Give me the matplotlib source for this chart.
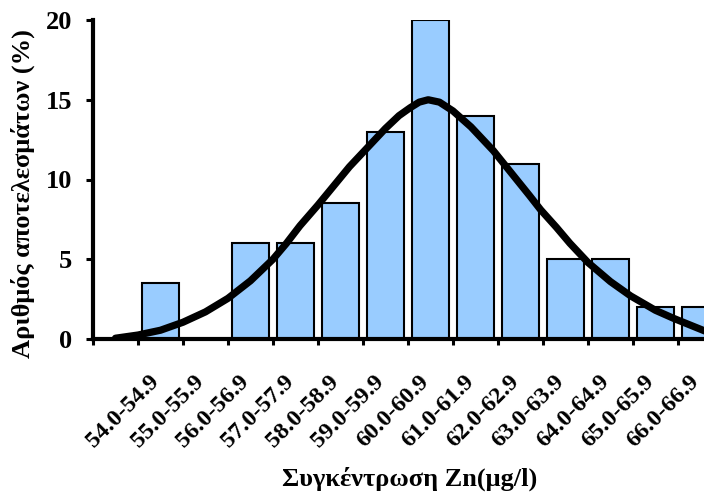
import matplotlib
matplotlib.use("Agg")
import matplotlib.pyplot as plt
from matplotlib.ticker import FixedLocator

plt.rcParams["font.family"] = ["Liberation Serif", "DejaVu Serif"]
plt.rcParams["font.weight"] = "bold"

# --- data ---
categories = ["54.0-54.9", "55.0-55.9", "56.0-56.9", "57.0-57.9", "58.0-58.9",
              "59.0-59.9", "60.0-60.9", "61.0-61.9", "62.0-62.9", "63.0-63.9",
              "64.0-64.9", "65.0-65.9", "66.0-66.9"]
percent = [3.5, 0, 6, 6, 8.5, 13, 20, 14, 11, 5, 5, 2, 2]

# fitted normal curve, points read in category units (slot 0 is the empty slot left of 54.0)
curve_x = [0.0, 0.5, 1.0, 1.5, 2.0, 2.5, 3.0, 3.5, 3.8, 4.1, 4.5, 4.85, 5.2, 5.6, 6.0,
           6.3, 6.55, 6.75, 6.95, 7.2, 7.5, 7.9, 8.4, 8.8, 9.2, 9.45, 9.8, 10.1, 10.5,
           11.0, 11.45, 12.0, 12.4, 13.1]
curve_y = [0.05, 0.25, 0.55, 1.05, 1.7, 2.55, 3.65, 5.0, 6.0, 7.1, 8.4, 9.6, 10.8, 12.0, 13.2,
           14.0, 14.5, 14.85, 15.0, 14.85, 14.3, 13.3, 11.8, 10.4, 9.0, 8.1, 7.0, 6.0, 4.8,
           3.6, 2.7, 1.8, 1.3, 0.5]

xpos = list(range(1, len(categories) + 1))

fig = plt.figure(figsize=(7.04, 4.97), dpi=100)
ax = fig.add_axes([93 / 704, 1 - 339 / 497, 1 - 93 / 704, (339 - 20) / 497])

ax.bar(xpos, percent, width=0.84, color="#99ccff", edgecolor="black", linewidth=1.5, zorder=2)
ax.plot(curve_x, curve_y, color="black", lw=5.2, solid_capstyle="round",
        solid_joinstyle="round", zorder=3)

ax.set_xlim(-0.5, 13.08)
ax.set_ylim(0, 20)

for s in ("top", "right"):
    ax.spines[s].set_visible(False)
for s in ("left", "bottom"):
    ax.spines[s].set_linewidth(3)

ax.set_yticks([0, 5, 10, 15, 20])
ax.tick_params(axis="y", direction="out", length=5, width=2.2, pad=10, labelsize=19)

# labels near category centres (nudged left so the last one stays inside), marks at boundaries
ax.set_xticks([p - 0.14 for p in xpos])
ax.set_xticklabels(categories, rotation=45, ha="right", va="center_baseline",
                   rotation_mode="anchor", fontsize=17.5)
ax.xaxis.set_minor_locator(FixedLocator([i - 0.5 for i in range(0, 14)]))
ax.tick_params(axis="x", which="major", length=0, pad=27)
ax.tick_params(axis="x", which="minor", direction="out", length=4, width=2.2)

fig.text(23 / 704, 1 - 194 / 497, "Αριθμός αποτελεσμάτων (%)", rotation=90,
         ha="center", va="center", fontsize=19, fontweight="bold")
fig.text(410 / 704, 1 - 479 / 497, "Συγκέντρωση Zn(μg/l)",
         ha="center", va="center", fontsize=19, fontweight="bold")

fig.savefig("out.png", dpi=100)
